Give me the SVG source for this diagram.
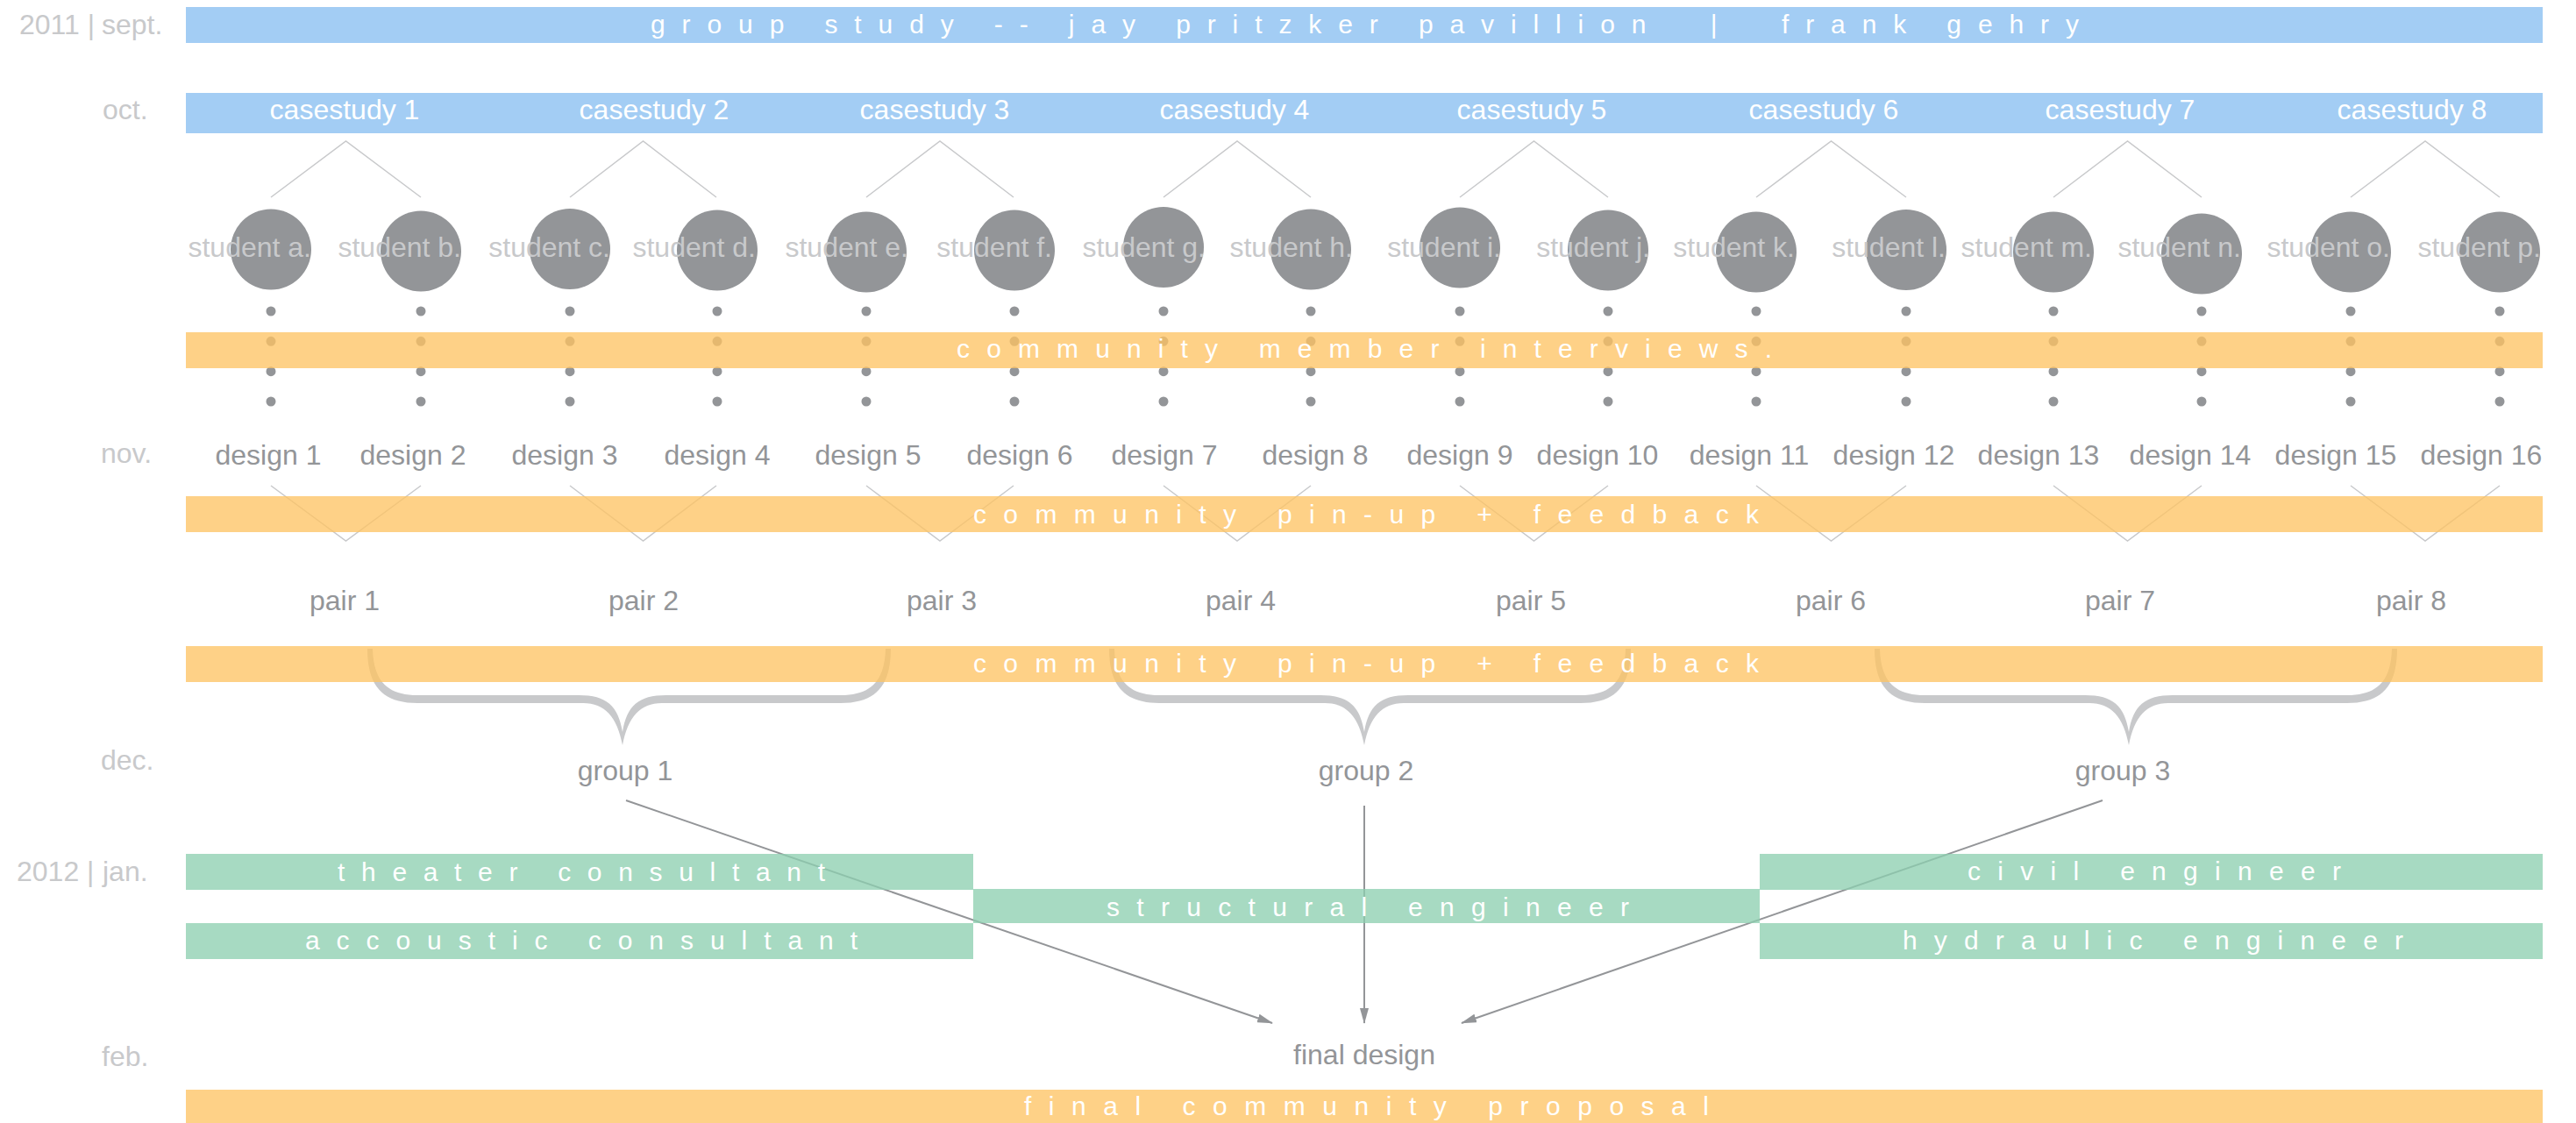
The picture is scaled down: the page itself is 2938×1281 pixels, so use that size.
<svg xmlns="http://www.w3.org/2000/svg" width="2938" height="1281" viewBox="0 0 2938 1281">
<defs>
<style>
text{font-family:"Liberation Sans",Arial,Helvetica,sans-serif;}
.mo{font-size:32px;fill:#c8c9cb;}
.lbl{font-size:32px;fill:#939598;text-anchor:middle;}
.stl{font-size:32px;fill:#c8c9cb;text-anchor:end;}
.cs{font-size:32px;fill:#ffffff;text-anchor:middle;}
.sp{font-size:30px;fill:#ffffff;}
.bb{fill:#a3cdf4;}
.bo{fill:#fec363;opacity:0.77;}
.bg{fill:#8dcfb0;opacity:0.77;}
.tri{fill:none;stroke:#c8c9cb;stroke-width:1.5;}
.dots{fill:none;stroke:#939598;stroke-width:11;stroke-linecap:round;stroke-dasharray:0 34.33;}
.brace{fill:#c8c9cb;}
.arr{fill:none;stroke:#939598;stroke-width:2;marker-end:url(#ah);}
.stu{fill:#939598;}
</style>
<marker id="ah" viewBox="0 0 18 10" refX="17" refY="5" markerWidth="18" markerHeight="10" orient="auto" markerUnits="userSpaceOnUse">
<path d="M0,0 L18,5 L0,10 Z" fill="#939598"/>
</marker>
</defs>
<rect width="2938" height="1281" fill="#ffffff"/>

<g id="months">
<text class="mo" y="39"><tspan x="22">2011 |</tspan><tspan x="116">sept.</tspan></text>
<text class="mo" x="117" y="136">oct.</text>
<text class="mo" x="115" y="528">nov.</text>
<text class="mo" x="115" y="878">dec.</text>
<text class="mo" y="1005"><tspan x="19">2012 |</tspan><tspan x="117">jan.</tspan></text>
<text class="mo" x="116" y="1216">feb.</text>
</g>

<g id="group-study">
<rect class="bb" x="212" y="8" width="2688" height="41"/>
<text class="sp" x="742" y="38" textLength="1629" lengthAdjust="spacing" xml:space="preserve">group study -- jay pritzker pavillion  |  frank gehry</text>
</g>

<g id="casestudies">
<rect class="bb" x="212" y="106" width="2688" height="46"/>
<text class="cs" x="393" y="136">casestudy 1</text>
<text class="cs" x="746" y="136">casestudy 2</text>
<text class="cs" x="1066" y="136">casestudy 3</text>
<text class="cs" x="1408" y="136">casestudy 4</text>
<text class="cs" x="1747" y="136">casestudy 5</text>
<text class="cs" x="2080" y="136">casestudy 6</text>
<text class="cs" x="2418" y="136">casestudy 7</text>
<text class="cs" x="2751" y="136">casestudy 8</text>
</g>

<g id="connectors">
<path class="tri" d="M309,225 L394.5,161 L480,225"/>
<path class="tri" d="M650,225 L733.5,161 L817,225"/>
<path class="tri" d="M988,225 L1072,161 L1156,225"/>
<path class="tri" d="M1327,225 L1411,161 L1495,225"/>
<path class="tri" d="M1665,225 L1749.5,161 L1834,225"/>
<path class="tri" d="M2003,225 L2088.5,161 L2174,225"/>
<path class="tri" d="M2342,225 L2426.5,161 L2511,225"/>
<path class="tri" d="M2681,225 L2766,161 L2851,225"/>

<path class="dots" d="M309,355V459 M480,355V459 M650,355V459 M818,355V459 M988,355V459 M1157,355V459 M1327,355V459 M1495,355V459 M1665,355V459 M1834,355V459 M2003,355V459 M2174,355V459 M2342,355V459 M2511,355V459 M2681,355V459 M2851,355V459"/>

<path class="tri" d="M309,554 L394.5,617 L480,554"/>
<path class="tri" d="M650,554 L733.5,617 L817,554"/>
<path class="tri" d="M988,554 L1072,617 L1156,554"/>
<path class="tri" d="M1327,554 L1411,617 L1495,554"/>
<path class="tri" d="M1665,554 L1749.5,617 L1834,554"/>
<path class="tri" d="M2003,554 L2088.5,617 L2174,554"/>
<path class="tri" d="M2342,554 L2426.5,617 L2511,554"/>
<path class="tri" d="M2681,554 L2766,617 L2851,554"/>

<path class="brace" d="M419,740 C419,782 436,802 476,802 L665,802 C690,802 704,818 710,850 C716,818 730,802 755,802 L959,802 C999,802 1016,782 1016,740 L1010,740 C1009,776 994,793 959,793 L760,793 C728,793 715,805 710,835 C705,805 692,793 660,793 L476,793 C441,793 426,776 425,740 Z"/>
<path class="brace" d="M1265,740 C1265,782 1282,802 1322,802 L1511,802 C1536,802 1550,818 1556,850 C1562,818 1576,802 1601,802 L1803,802 C1843,802 1860,782 1860,740 L1854,740 C1853,776 1838,793 1803,793 L1606,793 C1574,793 1561,805 1556,835 C1551,805 1538,793 1506,793 L1322,793 C1287,793 1272,776 1271,740 Z"/>
<path class="brace" d="M2138,740 C2138,782 2155,802 2195,802 L2383,802 C2408,802 2422,818 2428,850 C2434,818 2448,802 2473,802 L2677,802 C2717,802 2734,782 2734,740 L2728,740 C2727,776 2712,793 2677,793 L2478,793 C2446,793 2433,805 2428,835 C2423,805 2410,793 2378,793 L2195,793 C2160,793 2145,776 2144,740 Z"/>

<path class="arr" d="M714,913 L1451,1167"/>
<path class="arr" d="M1556,919 L1556,1167"/>
<path class="arr" d="M2398,913 L1667,1167"/>
</g>

<g id="students">
<g id="student-a"><circle class="stu" cx="309" cy="284.5" r="46"/><text class="stl" x="355" y="293">student a.</text></g>
<g id="student-b"><circle class="stu" cx="480" cy="286.5" r="46"/><text class="stl" x="526" y="293">student b.</text></g>
<g id="student-c"><circle class="stu" cx="650" cy="284" r="46"/><text class="stl" x="696" y="293">student c.</text></g>
<g id="student-d"><circle class="stu" cx="818" cy="285.5" r="46"/><text class="stl" x="862" y="293">student d.</text></g>
<g id="student-e"><circle class="stu" cx="988" cy="287.5" r="46"/><text class="stl" x="1036" y="293">student e.</text></g>
<g id="student-f"><circle class="stu" cx="1157" cy="285.5" r="46"/><text class="stl" x="1200" y="293">student f.</text></g>
<g id="student-g"><circle class="stu" cx="1327" cy="282" r="46"/><text class="stl" x="1375" y="293">student g.</text></g>
<g id="student-h"><circle class="stu" cx="1495" cy="284.5" r="46"/><text class="stl" x="1543" y="293">student h.</text></g>
<g id="student-i"><circle class="stu" cx="1665" cy="282.5" r="46"/><text class="stl" x="1712" y="293">student i.</text></g>
<g id="student-j"><circle class="stu" cx="1834" cy="285.5" r="46"/><text class="stl" x="1882" y="293">student j.</text></g>
<g id="student-k"><circle class="stu" cx="2003" cy="287.5" r="46"/><text class="stl" x="2047" y="293">student k.</text></g>
<g id="student-l"><circle class="stu" cx="2174" cy="285" r="46"/><text class="stl" x="2219" y="293">student l.</text></g>
<g id="student-m"><circle class="stu" cx="2342" cy="287.5" r="46"/><text class="stl" x="2386" y="293">student m.</text></g>
<g id="student-n"><circle class="stu" cx="2511" cy="289.5" r="46"/><text class="stl" x="2556" y="293">student n.</text></g>
<g id="student-o"><circle class="stu" cx="2681" cy="287.5" r="46"/><text class="stl" x="2726" y="293">student o.</text></g>
<g id="student-p"><circle class="stu" cx="2851" cy="287.5" r="46"/><text class="stl" x="2898" y="293">student p.</text></g>
</g>

<g id="designs">
<text id="design-1" class="lbl" x="306" y="530">design 1</text>
<text id="design-2" class="lbl" x="471" y="530">design 2</text>
<text id="design-3" class="lbl" x="644" y="530">design 3</text>
<text id="design-4" class="lbl" x="818" y="530">design 4</text>
<text id="design-5" class="lbl" x="990" y="530">design 5</text>
<text id="design-6" class="lbl" x="1163" y="530">design 6</text>
<text id="design-7" class="lbl" x="1328" y="530">design 7</text>
<text id="design-8" class="lbl" x="1500" y="530">design 8</text>
<text id="design-9" class="lbl" x="1665" y="530">design 9</text>
<text id="design-10" class="lbl" x="1822" y="530">design 10</text>
<text id="design-11" class="lbl" x="1995" y="530">design 11</text>
<text id="design-12" class="lbl" x="2160" y="530">design 12</text>
<text id="design-13" class="lbl" x="2325" y="530">design 13</text>
<text id="design-14" class="lbl" x="2498" y="530">design 14</text>
<text id="design-15" class="lbl" x="2664" y="530">design 15</text>
<text id="design-16" class="lbl" x="2830" y="530">design 16</text>
</g>

<g id="pairs">
<text id="pair-1" class="lbl" x="393" y="696">pair 1</text>
<text id="pair-2" class="lbl" x="734" y="696">pair 2</text>
<text id="pair-3" class="lbl" x="1074" y="696">pair 3</text>
<text id="pair-4" class="lbl" x="1415" y="696">pair 4</text>
<text id="pair-5" class="lbl" x="1746" y="696">pair 5</text>
<text id="pair-6" class="lbl" x="2088" y="696">pair 6</text>
<text id="pair-7" class="lbl" x="2418" y="696">pair 7</text>
<text id="pair-8" class="lbl" x="2750" y="696">pair 8</text>
</g>

<g id="groups">
<text id="group-1" class="lbl" x="713" y="890">group 1</text>
<text id="group-2" class="lbl" x="1558" y="890">group 2</text>
<text id="group-3" class="lbl" x="2421" y="890">group 3</text>
</g>

<g id="final-design">
<text class="lbl" x="1556" y="1214">final design</text>
</g>

<g id="interviews">
<rect class="bo" x="212" y="379" width="2688" height="41"/>
<text class="sp" x="1091" y="408" textLength="930" lengthAdjust="spacing">community member interviews.</text>
</g>

<g id="pinup-1">
<rect class="bo" x="212" y="566" width="2688" height="41"/>
<text class="sp" x="1110" y="597" textLength="896" lengthAdjust="spacing">community pin-up + feedback</text>
</g>

<g id="pinup-2">
<rect class="bo" x="212" y="737" width="2688" height="41"/>
<text class="sp" x="1110" y="767" textLength="896" lengthAdjust="spacing">community pin-up + feedback</text>
</g>

<g id="theater-consultant">
<rect class="bg" x="212" y="974" width="898" height="41"/>
<text class="sp" x="385" y="1005" textLength="556" lengthAdjust="spacing">theater consultant</text>
</g>

<g id="accoustic-consultant">
<rect class="bg" x="212" y="1053" width="898" height="41"/>
<text class="sp" x="348" y="1083" textLength="630" lengthAdjust="spacing">accoustic consultant</text>
</g>

<g id="structural-engineer">
<rect class="bg" x="1110" y="1014" width="897" height="39"/>
<text class="sp" x="1262" y="1045" textLength="596" lengthAdjust="spacing">structural engineer</text>
</g>

<g id="civil-engineer">
<rect class="bg" x="2007" y="974" width="893" height="41"/>
<text class="sp" x="2244" y="1004" textLength="426" lengthAdjust="spacing">civil engineer</text>
</g>

<g id="hydraulic-engineer">
<rect class="bg" x="2007" y="1053" width="893" height="41"/>
<text class="sp" x="2170" y="1083" textLength="571" lengthAdjust="spacing">hydraulic engineer</text>
</g>

<g id="final-proposal">
<rect class="bo" x="212" y="1243" width="2688" height="40"/>
<text class="sp" x="1168" y="1272" textLength="781" lengthAdjust="spacing">final community proposal</text>
</g>
</svg>
